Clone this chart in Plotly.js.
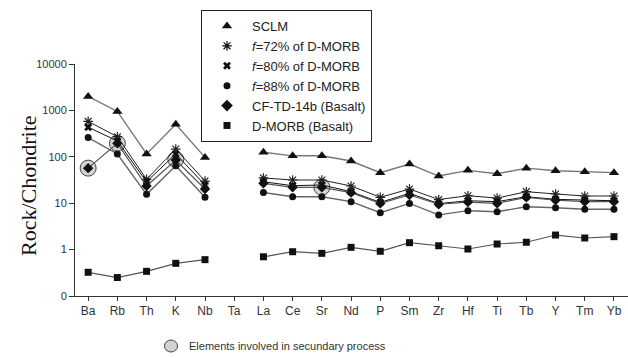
<!DOCTYPE html>
<html>
<head>
<meta charset="utf-8">
<script src="https://cdn.plot.ly/plotly-3.0.1.min.js"></script>
<style>html,body{margin:0;padding:0;background:#fff;}#chart{width:628px;height:358px;}</style>
</head>
<body>
<div id="chart"></div>
<script>
var elements = ['Ba','Rb','Th','K','Nb','Ta','La','Ce','Sr','Nd','P','Sm','Zr','Hf','Ti','Tb','Y','Tm','Yb'];
var sclm  = [2000, 950, 115, 500, 97, null, 125, 105, 105, 81, 45.5, 70, 38.5, 51, 43, 57, 50, 47.5, 45.5];
var f72   = [580, 271, 32.7, 147, 30, null, 35, 31.6, 31.6, 23.5, 13.4, 20.2, 12.0, 14.5, 12.9, 17.7, 15.8, 14.3, 14.3];
var f80   = [435, 219, 29, 115, 24.7, null, 29, 23.8, 24.7, 17.7, 10.4, 16.3, 9.8, 11.3, 10.8, 13.8, 12.1, 11.7, 11.3];
var f88   = [260, 115, 15.5, 64.4, 13.4, null, 17, 13.8, 13.8, 10.8, 6.24, 9.9, 5.6, 6.9, 6.56, 8.4, 8.0, 7.4, 7.4];
var cftd  = [57, 195, 23.5, 85, 20.2, null, 26.8, 22, 22, 16.9, 9.9, 15, 9.5, 10.6, 9.9, 13.4, 11.7, 10.8, 10.8];
var dmorb = [0.324, 0.25, 0.34, 0.506, 0.607, null, 0.70, 0.90, 0.83, 1.12, 0.92, 1.41, 1.21, 1.03, 1.32, 1.44, 2.06, 1.78, 1.90];
var hlElements = ['Ba','Rb','K','Sr'];
var hlValues   = [57, 195, 88, 22];
var yTickVals  = [0.1, 1, 10, 100, 1000, 10000];
var yTickText  = ['0', '1', '10', '100', '1000', '10000'];

var FONT = 'Liberation Sans, Arial, sans-serif';

function series(name, y, symbol, size, lineColor, markerColor, lineWidth) {
  return {
    x: elements, y: y, name: name, type: 'scatter', mode: 'lines+markers',
    connectgaps: false, showlegend: false,
    line: {color: lineColor, width: lineWidth || 1.2},
    marker: {symbol: symbol, size: size, color: markerColor,
             line: {color: markerColor, width: (symbol.indexOf('open') >= 0 ? 1.2 : 0)}}
  };
}
function legendItem(name, symbol, size) {
  return {
    x: [null], y: [null], name: name, type: 'scatter', mode: 'markers',
    showlegend: true,
    marker: {symbol: symbol, size: size, color: '#111',
             line: {color: '#111', width: (symbol.indexOf('open') >= 0 ? 1.2 : 0)}}
  };
}

var traces = [
  series('SCLM', sclm, 'triangle-up', 9, '#777', '#111', 1.4),
  series('f72', f72, 'asterisk-open', 8, '#222', '#222', 1),
  series('f80', f80, 'x', 7, '#111', '#111', 1),
  series('f88', f88, 'circle', 7, '#666', '#111', 1.4),
  series('CF', cftd, 'diamond', 8, '#555', '#111', 1.2),
  series('DMORB', dmorb, 'square', 7, '#555', '#111', 1.2),
  legendItem('SCLM', 'triangle-up', 9),
  legendItem('<i>f</i>=72% of D-MORB', 'asterisk-open', 8),
  legendItem('<i>f</i>=80% of D-MORB', 'x', 7),
  legendItem('<i>f</i>=88% of D-MORB', 'circle', 7),
  legendItem('CF-TD-14b (Basalt)', 'diamond', 9),
  legendItem('D-MORB (Basalt)', 'square', 7)
];
// highlight circles drawn behind the series
traces.unshift({x: hlElements, y: hlValues, type: 'scatter', mode: 'markers', showlegend: false,
   marker: {symbol: 'circle', size: 16, color: '#d3d3d3', line: {color: '#444', width: 1}}});

var layout = {
  width: 628, height: 358,
  margin: {l: 75, r: 0, t: 64, b: 62},
  paper_bgcolor: '#fff', plot_bgcolor: '#fff',
  font: {family: FONT, size: 12, color: '#222'},
  showlegend: true,
  legend: {
    x: (201 - 75) / 553, xanchor: 'left', xref: 'paper',
    y: (296 - 10) / 232, yanchor: 'top', yref: 'paper',
    bgcolor: '#fff', bordercolor: '#222', borderwidth: 1,
    font: {family: FONT, size: 13, color: '#222'},
    itemwidth: 40, entrywidth: 186,
    traceorder: 'normal'
  },
  xaxis: {
    type: 'category', categoryorder: 'array', categoryarray: elements,
    range: [-0.45, 18.48],
    showgrid: false, zeroline: false,
    showline: true, linecolor: '#333', linewidth: 1,
    ticks: 'outside', ticklen: 4, tickcolor: '#333',
    tickfont: {family: FONT, size: 12, color: '#333'}
  },
  yaxis: {
    type: 'log', range: [-1, 4],
    tickvals: yTickVals, ticktext: yTickText,
    showgrid: false, zeroline: false,
    showline: true, linecolor: '#333', linewidth: 1,
    ticks: 'outside', ticklen: 5, tickcolor: '#333',
    tickfont: {family: FONT, size: 11, color: '#333'}
  },
  annotations: [
    {text: 'Rock/Chondrite', xref: 'paper', yref: 'paper',
     x: (28 - 75) / 553, y: (296 - 186) / 232, xanchor: 'center', yanchor: 'middle',
     textangle: -90, showarrow: false,
     font: {family: 'Liberation Serif, Times New Roman, serif', size: 22, color: '#111'}},
    {text: 'Elements involved in secundary process', xref: 'paper', yref: 'paper',
     x: (187 - 75) / 553, y: (296 - 346) / 232, xanchor: 'left', yanchor: 'middle',
     showarrow: false, font: {family: FONT, size: 11, color: '#333'}}
  ],
  shapes: [
    {type: 'circle', xref: 'paper', yref: 'paper', xsizemode: 'pixel', ysizemode: 'pixel',
     xanchor: (171 - 75) / 553, yanchor: (296 - 346) / 232,
     x0: -6.5, x1: 6.5, y0: -6, y1: 6,
     fillcolor: '#d3d3d3', line: {color: '#444', width: 1}}
  ]
};

Plotly.newPlot('chart', traces, layout, {displayModeBar: false, staticPlot: true});
</script>
</body>
</html>
